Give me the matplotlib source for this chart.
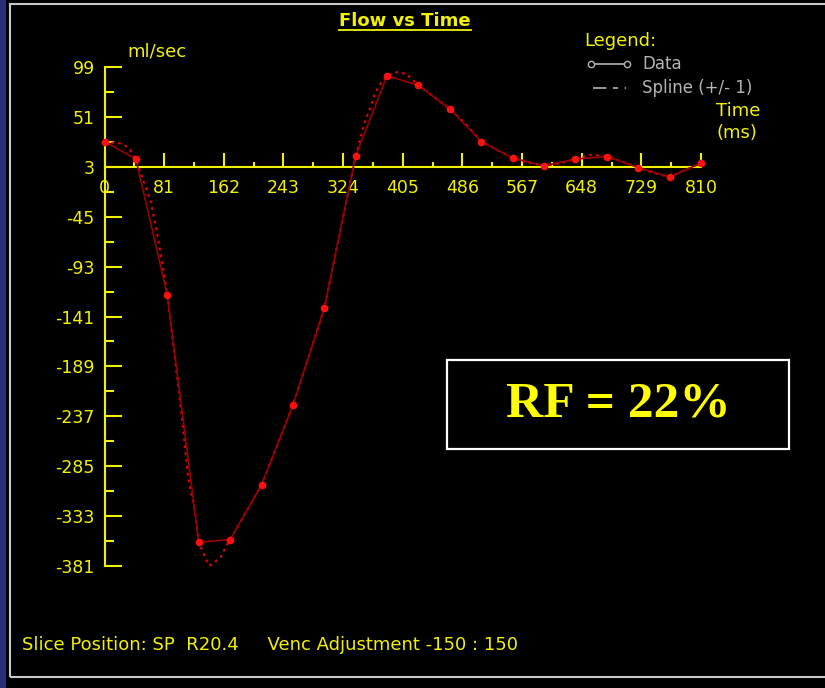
import matplotlib
matplotlib.use("Agg")
import matplotlib.pyplot as plt
from matplotlib.lines import Line2D
from matplotlib.patches import Rectangle
from matplotlib.ticker import MultipleLocator, FixedLocator

# flow curve
time_ms = [0, 42.6, 85.3, 127.9, 170.5, 213.2, 255.8, 298.4, 341.1, 383.7,
           426.3, 468.9, 511.6, 554.2, 596.8, 639.5, 682.1, 724.7, 767.4, 810]
flow = [27.3, 10.4, -120.6, -358, -355.7, -303, -226.4, -133.3, 13.6, 90.6,
        81.4, 58.7, 27.3, 11.4, 4, 10.4, 12.9, 2.3, -6.9, 6.6]

spline_t = [0, 9.8, 20.1, 28.8, 34.6, 42.6, 63.1, 73, 82.2, 85.3, 95.7, 104.8,
            113.8, 122.9, 127.9, 136.5, 142.3, 150, 157.8, 165, 170.5, 213.2,
            255.8, 298.4, 341.1, 346.9, 353.7, 360.5, 367.3, 374.1, 383.7, 399,
            410.4, 426.3, 446.5, 468.9, 489.5, 511.6, 532.6, 554.2, 575.5,
            596.8, 617, 639.5, 660.8, 682.1, 703.4, 724.7, 746, 767.4, 788.7, 810]
spline_v = [27.3, 26.3, 25.7, 23.2, 19.3, 10.4, -31.3, -67, -105.5, -120.6,
            -182.3, -236.7, -297.5, -329, -358, -372.7, -380.7, -377, -372.7,
            -362, -355.7, -303, -226.4, -133.3, 13.6, 28.9, 46.5, 59.3, 73.7,
            82.4, 90.6, 94.5, 92, 81.4, 70.5, 58.7, 45, 27.3, 19.3, 11.4, 7, 4,
            6, 10.4, 14.5, 12.9, 8, 2.3, -3, -6.9, 0, 6.6]

x_ticks = [0, 81, 162, 243, 324, 405, 486, 567, 648, 729, 810]
y_ticks = [99, 51, 3, -45, -93, -141, -189, -237, -285, -333, -381]

YEL = '#f2f200'
GRAY = '#b4b4b4'
W, H = 825, 688


def fx(px):
    return px / W


def fy(py):
    return 1 - py / H


plt.rcParams['font.family'] = ['DejaVu Sans']

fig = plt.figure(figsize=(W / 100, H / 100), dpi=100, facecolor='black')

# frame decorations
fig.patches.append(Rectangle((0, 0), fx(6), 1, transform=fig.transFigure,
                             facecolor='#2c2c7c', edgecolor='none'))
fig.patches.append(Rectangle((fx(10), fy(677)), 1, fy(4) - fy(677),
                             transform=fig.transFigure, facecolor='none',
                             edgecolor='#c8c8c8', linewidth=1.5))

ax = fig.add_axes([fx(104.5), fy(566), fx(701) - fx(104.5), fy(67) - fy(566)])
ax.set_facecolor('black')
ax.set_xlim(0, 810)
ax.set_ylim(-381, 99)

for s in ['top', 'right']:
    ax.spines[s].set_visible(False)
ax.spines['bottom'].set_position(('data', 3))
for s in ['left', 'bottom']:
    ax.spines[s].set_color(YEL)
    ax.spines[s].set_linewidth(1.5)

ax.xaxis.set_major_locator(FixedLocator(x_ticks))
ax.xaxis.set_minor_locator(MultipleLocator(40.5))
ax.yaxis.set_major_locator(FixedLocator(y_ticks))
ax.yaxis.set_minor_locator(FixedLocator([v - 24 for v in y_ticks[:-1]]))
ax.set_xticklabels([str(v) for v in x_ticks])
ax.set_yticklabels([str(v) for v in y_ticks])

ax.tick_params(axis='x', which='major', direction='in', length=10, width=1.5,
               color=YEL, labelcolor=YEL, labelsize=12.5, pad=8.5)
ax.tick_params(axis='x', which='minor', direction='in', length=3.8, width=1.5,
               color=YEL)
ax.tick_params(axis='y', which='major', direction='in', length=12, width=1.5,
               color=YEL, labelcolor=YEL, labelsize=12.5, pad=7)
ax.tick_params(axis='y', which='minor', direction='in', length=6.5, width=1.5,
               color=YEL)

ax.plot(spline_t, spline_v, color='#e80000', lw=1.5, ls=(0, (1.3, 2)),
        clip_on=False, zorder=3)
ax.plot(time_ms, flow, color='#9a0000', lw=1.2, marker='o', ms=4.5,
        mfc='#ff1010', mec='#ff1010', clip_on=False, zorder=4)

# texts
title = fig.text(fx(405), fy(21), 'Flow vs Time', color=YEL, fontsize=13,
                 fontweight='bold', ha='center', va='center')
fig.text(fx(127), fy(52), 'ml/sec', color=YEL, fontsize=13, ha='left', va='center')
fig.text(fx(584), fy(41), 'Legend:', color=YEL, fontsize=13, ha='left', va='center')
fig.text(fx(642), fy(64), 'Data', color=GRAY, fontsize=12, ha='left', va='center')
fig.text(fx(642), fy(88), 'Spline (+/- 1)', color=GRAY, fontsize=12,
         ha='left', va='center')
fig.text(fx(716), fy(111), 'Time', color=YEL, fontsize=13, ha='left', va='center')
fig.text(fx(717), fy(133), '(ms)', color=YEL, fontsize=13, ha='left', va='center')
fig.text(fx(22), fy(645), 'Slice Position: SP  R20.4     Venc Adjustment -150 : 150',
         color=YEL, fontsize=13, ha='left', va='center')

# legend samples
fig.lines.append(Line2D([fx(591), fx(627)], [fy(64), fy(64)], transform=fig.transFigure,
                        color=GRAY, lw=1.2, marker='o', ms=4.5, mfc='black', mec=GRAY))
fig.lines.append(Line2D([fx(593), fx(626)], [fy(88), fy(88)], transform=fig.transFigure,
                        color=GRAY, lw=1.2, ls=(0, (8, 4, 3, 4))))

# RF box
fig.patches.append(Rectangle((fx(447), fy(449)), fx(789) - fx(447), fy(360) - fy(449),
                             transform=fig.transFigure, facecolor='black',
                             edgecolor='white', linewidth=1.6))
fig.text(fx(618), fy(404), 'RF = 22%', color='#ffff00', fontsize=37,
         fontweight='bold', family=['Liberation Serif', 'DejaVu Serif'],
         ha='center', va='center')

# underline the title
fig.canvas.draw()
bb = title.get_window_extent().transformed(fig.transFigure.inverted())
fig.lines.append(Line2D([bb.x0, bb.x1], [fy(30), fy(30)], transform=fig.transFigure,
                        color=YEL, lw=1.3))

fig.savefig('out.png', dpi=100, facecolor='black')
